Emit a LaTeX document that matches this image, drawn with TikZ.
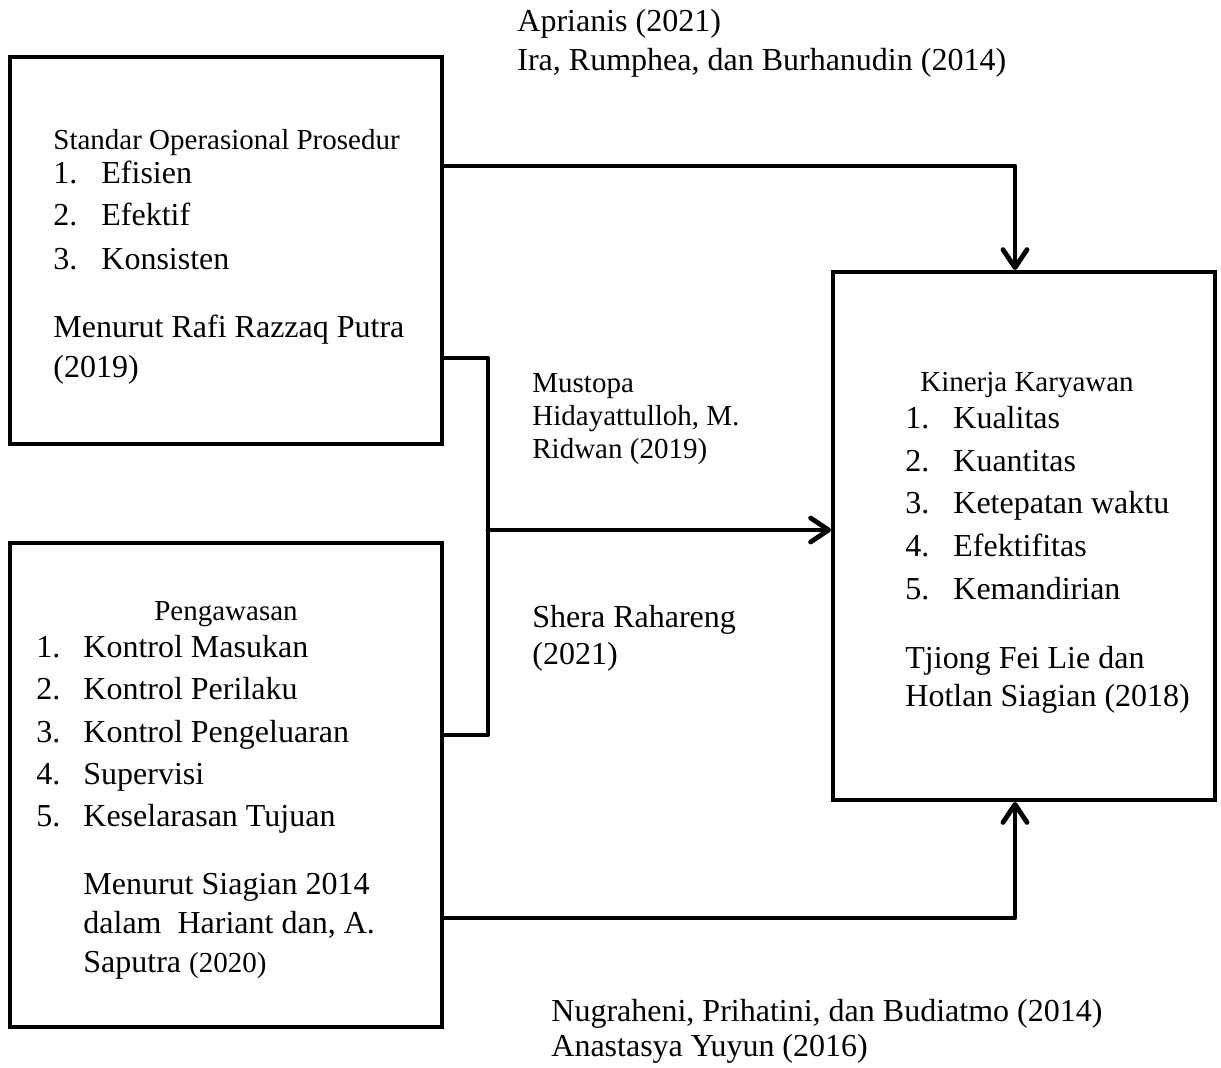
\documentclass[tikz,border=0pt]{standalone}
\usepackage{fontspec}
\setmainfont{Liberation Serif}
\usetikzlibrary{arrows.meta}

\begin{document}
\begin{tikzpicture}[x=0.5pt,y=-0.5pt]
        \tikzset{box/.style={draw, line width=2pt, inner sep=0pt},
                 link/.style={line width=2.4pt, line cap=round, line join=round},
                 tip/.style={-{Straight Barb[length=9pt,width=12pt,round]}},
                 txt/.style={anchor=base west, inner sep=0pt, font=\fontsize{16}{19}\selectfont},
                 small/.style={anchor=base west, inner sep=0pt, font=\fontsize{14.5}{17}\selectfont}}
        \useasboundingbox (0,0) rectangle (1221,1067);
        % boxes
        \node[box, minimum width=216pt, minimum height=193.5pt] (sop) at (226,250.5) {};
        \node[box, minimum width=216pt, minimum height=242pt] (peng) at (226,785) {};
        \node[box, minimum width=191pt, minimum height=264pt] (kin) at (1024,536) {};
        \coordinate (join) at (488,530);
        % connectors
        \draw[link, tip] (sop.east |- 0,166) -| (kin.north -| 1015,0);
        \draw[link] (sop.east |- 0,358) -| (join |- 0,358) -- (join |- 0,735) -- (peng.east |- 0,735);
        \draw[link, tip] (join) -- (kin.west |- join);
        \draw[link, tip] (peng.east |- 0,918) -| (kin.south -| 1015,0);
        % Standar Operasional Prosedur
        \node[small] (sopT) at (53,149) {Standar Operasional Prosedur};
        \node[txt] (sopN1) at (53,183) {1.};
        \node[txt] (sop1) at (101,183) {Efisien};
        \node[txt] (sopN2) at (53,225) {2.};
        \node[txt] (sop2) at (101,225) {Efektif};
        \node[txt] (sopN3) at (53,269) {3.};
        \node[txt] (sop3) at (101,269) {Konsisten};
        \node[txt] (sopR1) at (53,337) {Menurut Rafi Razzaq Putra};
        \node[txt] (sopR2) at (53,377) {(2019)};
        % Pengawasan
        \node[small, anchor=base] (pengT) at (226,620) {Pengawasan};
        \node[txt] (pengN1) at (36,657) {1.};
        \node[txt] (peng1) at (83,657) {Kontrol Masukan};
        \node[txt] (pengN2) at (36,699) {2.};
        \node[txt] (peng2) at (83,699) {Kontrol Perilaku};
        \node[txt] (pengN3) at (36,742) {3.};
        \node[txt] (peng3) at (83,742) {Kontrol Pengeluaran};
        \node[txt] (pengN4) at (36,784) {4.};
        \node[txt] (peng4) at (83,784) {Supervisi};
        \node[txt] (pengN5) at (36,826) {5.};
        \node[txt] (peng5) at (83,826) {Keselarasan Tujuan};
        \node[txt] (pengR1) at (83,894) {Menurut Siagian 2014};
        \node[txt] (pengR2) at (83,933) {dalam\ \ Hariant dan, A.};
        \node[txt] (pengR3) at (83,972) {Saputra {\fontsize{14.5}{17}\selectfont(2020)}};
        % Kinerja Karyawan
        \node[small, anchor=base] (kinT) at (1027,391) {Kinerja Karyawan};
        \node[txt] (kinN1) at (905,428) {1.};
        \node[txt] (kin1) at (953,428) {Kualitas};
        \node[txt] (kinN2) at (905,471) {2.};
        \node[txt] (kin2) at (953,471) {Kuantitas};
        \node[txt] (kinN3) at (905,513) {3.};
        \node[txt] (kin3) at (953,513) {Ketepatan waktu};
        \node[txt] (kinN4) at (905,556) {4.};
        \node[txt] (kin4) at (953,556) {Efektifitas};
        \node[txt] (kinN5) at (905,599) {5.};
        \node[txt] (kin5) at (953,599) {Kemandirian};
        \node[txt] (kinR1) at (905,668) {Tjiong Fei Lie dan};
        \node[txt] (kinR2) at (905,706) {Hotlan Siagian (2018)};
        % references on the connectors
        \node[txt] (refA1) at (517,31) {Aprianis (2021)};
        \node[txt] (refA2) at (517,70) {Ira, Rumphea, dan Burhanudin (2014)};
        \node[small] (refB1) at (532,392) {Mustopa};
        \node[small] (refB2) at (532,425) {Hidayattulloh, M.};
        \node[small] (refB3) at (532,458) {Ridwan (2019)};
        \node[txt] (refC1) at (532,627) {Shera Rahareng};
        \node[txt] (refC2) at (532,664) {(2021)};
        \node[txt] (refD1) at (551,1021) {Nugraheni, Prihatini, dan Budiatmo (2014)};
        \node[txt] (refD2) at (551,1056) {Anastasya Yuyun (2016)};
    \end{tikzpicture}
\end{document}
